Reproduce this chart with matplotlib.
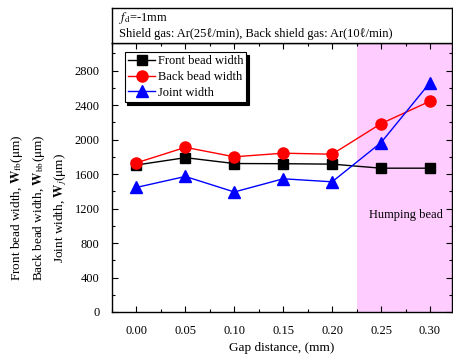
import numpy as np
import matplotlib
matplotlib.use("Agg")
import matplotlib.pyplot as plt
from matplotlib.ticker import MultipleLocator

plt.rcParams['font.family'] = ['Liberation Serif', 'DejaVu Serif']
plt.rcParams['mathtext.fontset'] = 'stix'

gap = [0.00, 0.05, 0.10, 0.15, 0.20, 0.25, 0.30]
front = [1705, 1790, 1722, 1720, 1715, 1668, 1668]
back = [1730, 1910, 1800, 1842, 1830, 2185, 2445]
joint = [1445, 1572, 1392, 1545, 1510, 1965, 2660]

FS = 9

fig = plt.figure(figsize=(4.53, 3.55), dpi=100)
ax = fig.add_axes([112/453, 1 - 312/355, 340/453, (312 - 43)/355])
hdr = fig.add_axes([112/453, 1 - 43/355, 340/453, 35/355])

# humping region
ax.axvspan(0.225, 0.33, color='#ffccff', lw=0, zorder=0)

ax.plot(gap, front, '-s', color='black', mfc='black', mec='black', ms=7, lw=1.0, label='Front bead width')
ax.plot(gap, back, '-o', color='red', mfc='red', mec='red', ms=8, lw=1.0, label='Back bead width')
ax.plot(gap, joint, '-^', color='blue', mfc='blue', mec='blue', ms=8, lw=1.0, label='Joint width')

ax.set_xlim(-0.025, 0.3225)
ax.set_ylim(0, 3120)
ax.xaxis.set_major_locator(MultipleLocator(0.05))
ax.xaxis.set_minor_locator(MultipleLocator(0.025))
ax.yaxis.set_major_locator(MultipleLocator(400))
ax.yaxis.set_minor_locator(MultipleLocator(200))
ax.xaxis.set_major_formatter(matplotlib.ticker.FormatStrFormatter('%.2f'))
ax.tick_params(which='both', direction='in', top=True, right=True, labelsize=FS, width=0.8)
ax.tick_params(which='major', length=4, pad=9)
ax.tick_params(which='minor', length=2)
for s in ax.spines.values():
    s.set_linewidth(1.0)

ax.text(0.275, 1130, 'Humping bead', ha='center', va='center', fontsize=FS)

ax.set_xlabel('Gap distance, (mm)', fontsize=FS + 0.5, labelpad=4)

ylines = [r'Front bead width, $\mathbf{W}_{\mathrm{fb}}$($\mathrm{\mu}$m)',
          r'Back bead width, $\mathbf{W}_{\mathrm{bb}}$($\mathrm{\mu}$m)',
          r'Joint width, $\mathbf{W}_{j}$($\mathrm{\mu}$m)']
for xpos, t in zip([17, 39, 61], ylines):
    fig.text(xpos/453, 1 - 208/355, t, rotation=90, ha='center', va='center', fontsize=FS + 0.5)

leg = ax.legend(loc='upper left', bbox_to_anchor=(0.03, 0.975), fontsize=FS, frameon=True,
                fancybox=False, shadow={'color': 'black', 'alpha': 1.0}, borderpad=0.25,
                labelspacing=0.3, handlelength=2.2, handletextpad=0.2, borderaxespad=0.2)
leg.get_frame().set_edgecolor('black')
leg.get_frame().set_linewidth(0.8)

hdr.set_xticks([])
hdr.set_yticks([])
hdr.set_xlim(0, 1)
hdr.set_ylim(0, 1)
for s in hdr.spines.values():
    s.set_linewidth(1.0)
hdr.text(0.02, 0.72, r'$f_{\mathrm{d}}$=-1mm', ha='left', va='center', fontsize=FS)
hdr.text(0.02, 0.27, 'Shield gas: Ar(25\u2113/min), Back shield gas: Ar(10\u2113/min)',
         ha='left', va='center', fontsize=FS)

fig.savefig('out.png', dpi=100)
